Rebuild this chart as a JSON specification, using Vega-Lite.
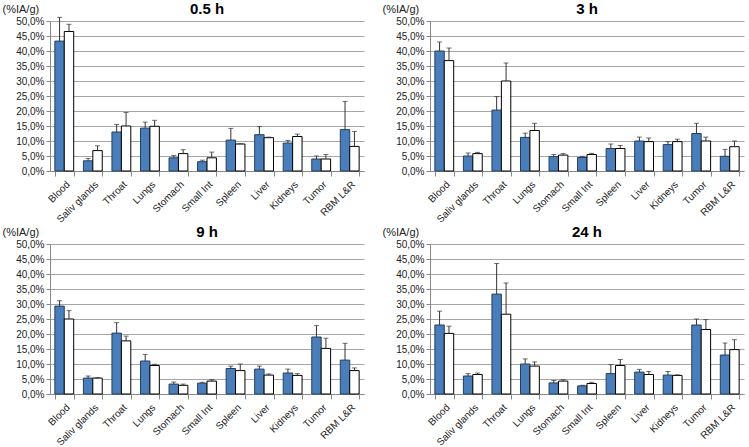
{
 "$schema": "https://vega.github.io/schema/vega-lite/v6.json",
 "background": "white",
 "padding": {"left": 2, "right": 2, "top": 2, "bottom": 2},
 "data": {"values": [
  {"t":"0.5 h","o":"Blood","s":"A","v":43.3,"hi":51.2},
  {"t":"0.5 h","o":"Blood","s":"B","v":46.5,"hi":48.9},
  {"t":"0.5 h","o":"Saliv glands","s":"A","v":3.4,"hi":4.2},
  {"t":"0.5 h","o":"Saliv glands","s":"B","v":6.8,"hi":8.4},
  {"t":"0.5 h","o":"Throat","s":"A","v":13.0,"hi":15.5},
  {"t":"0.5 h","o":"Throat","s":"B","v":15.0,"hi":19.5},
  {"t":"0.5 h","o":"Lungs","s":"A","v":14.3,"hi":16.3},
  {"t":"0.5 h","o":"Lungs","s":"B","v":14.9,"hi":16.9},
  {"t":"0.5 h","o":"Stomach","s":"A","v":4.4,"hi":5.2},
  {"t":"0.5 h","o":"Stomach","s":"B","v":5.8,"hi":7.1},
  {"t":"0.5 h","o":"Small Int","s":"A","v":3.1,"hi":3.6},
  {"t":"0.5 h","o":"Small Int","s":"B","v":4.4,"hi":6.3},
  {"t":"0.5 h","o":"Spleen","s":"A","v":10.3,"hi":14.2},
  {"t":"0.5 h","o":"Spleen","s":"B","v":9.0,"hi":9.1},
  {"t":"0.5 h","o":"Liver","s":"A","v":12.1,"hi":14.8},
  {"t":"0.5 h","o":"Liver","s":"B","v":11.1,"hi":11.3},
  {"t":"0.5 h","o":"Kidneys","s":"A","v":9.3,"hi":10.2},
  {"t":"0.5 h","o":"Kidneys","s":"B","v":11.5,"hi":12.3},
  {"t":"0.5 h","o":"Tumor","s":"A","v":4.0,"hi":5.0},
  {"t":"0.5 h","o":"Tumor","s":"B","v":4.0,"hi":5.5},
  {"t":"0.5 h","o":"RBM L&R","s":"A","v":13.8,"hi":23.2},
  {"t":"0.5 h","o":"RBM L&R","s":"B","v":8.2,"hi":13.2},
  {"t":"3 h","o":"Blood","s":"A","v":40.0,"hi":43.0},
  {"t":"3 h","o":"Blood","s":"B","v":36.8,"hi":41.0},
  {"t":"3 h","o":"Saliv glands","s":"A","v":5.0,"hi":6.0},
  {"t":"3 h","o":"Saliv glands","s":"B","v":5.8,"hi":6.2},
  {"t":"3 h","o":"Throat","s":"A","v":20.3,"hi":24.8},
  {"t":"3 h","o":"Throat","s":"B","v":30.0,"hi":36.0},
  {"t":"3 h","o":"Lungs","s":"A","v":11.2,"hi":12.6},
  {"t":"3 h","o":"Lungs","s":"B","v":13.5,"hi":15.9},
  {"t":"3 h","o":"Stomach","s":"A","v":4.8,"hi":5.5},
  {"t":"3 h","o":"Stomach","s":"B","v":5.3,"hi":5.8},
  {"t":"3 h","o":"Small Int","s":"A","v":4.5,"hi":4.9},
  {"t":"3 h","o":"Small Int","s":"B","v":5.5,"hi":5.9},
  {"t":"3 h","o":"Spleen","s":"A","v":7.5,"hi":9.0},
  {"t":"3 h","o":"Spleen","s":"B","v":7.5,"hi":8.5},
  {"t":"3 h","o":"Liver","s":"A","v":10.0,"hi":11.3},
  {"t":"3 h","o":"Liver","s":"B","v":9.8,"hi":11.0},
  {"t":"3 h","o":"Kidneys","s":"A","v":8.8,"hi":9.8},
  {"t":"3 h","o":"Kidneys","s":"B","v":9.8,"hi":10.6},
  {"t":"3 h","o":"Tumor","s":"A","v":12.5,"hi":15.9},
  {"t":"3 h","o":"Tumor","s":"B","v":10.0,"hi":11.3},
  {"t":"3 h","o":"RBM L&R","s":"A","v":4.9,"hi":7.2},
  {"t":"3 h","o":"RBM L&R","s":"B","v":8.1,"hi":10.0},
  {"t":"9 h","o":"Blood","s":"A","v":29.3,"hi":31.1},
  {"t":"9 h","o":"Blood","s":"B","v":25.0,"hi":27.8},
  {"t":"9 h","o":"Saliv glands","s":"A","v":5.3,"hi":6.0},
  {"t":"9 h","o":"Saliv glands","s":"B","v":5.3,"hi":5.5},
  {"t":"9 h","o":"Throat","s":"A","v":20.3,"hi":23.8},
  {"t":"9 h","o":"Throat","s":"B","v":17.7,"hi":19.3},
  {"t":"9 h","o":"Lungs","s":"A","v":11.0,"hi":13.2},
  {"t":"9 h","o":"Lungs","s":"B","v":9.5,"hi":9.9},
  {"t":"9 h","o":"Stomach","s":"A","v":3.3,"hi":4.0},
  {"t":"9 h","o":"Stomach","s":"B","v":2.9,"hi":3.3},
  {"t":"9 h","o":"Small Int","s":"A","v":3.6,"hi":3.9},
  {"t":"9 h","o":"Small Int","s":"B","v":4.3,"hi":4.8},
  {"t":"9 h","o":"Spleen","s":"A","v":8.5,"hi":9.3},
  {"t":"9 h","o":"Spleen","s":"B","v":7.8,"hi":10.0},
  {"t":"9 h","o":"Liver","s":"A","v":8.3,"hi":9.3},
  {"t":"9 h","o":"Liver","s":"B","v":6.3,"hi":6.7},
  {"t":"9 h","o":"Kidneys","s":"A","v":7.0,"hi":8.3},
  {"t":"9 h","o":"Kidneys","s":"B","v":6.2,"hi":6.8},
  {"t":"9 h","o":"Tumor","s":"A","v":19.0,"hi":22.8},
  {"t":"9 h","o":"Tumor","s":"B","v":15.2,"hi":18.6},
  {"t":"9 h","o":"RBM L&R","s":"A","v":11.3,"hi":16.9},
  {"t":"9 h","o":"RBM L&R","s":"B","v":7.8,"hi":8.7},
  {"t":"24 h","o":"Blood","s":"A","v":23.0,"hi":27.6},
  {"t":"24 h","o":"Blood","s":"B","v":20.2,"hi":22.6},
  {"t":"24 h","o":"Saliv glands","s":"A","v":6.0,"hi":6.8},
  {"t":"24 h","o":"Saliv glands","s":"B","v":6.5,"hi":7.0},
  {"t":"24 h","o":"Throat","s":"A","v":33.3,"hi":43.5},
  {"t":"24 h","o":"Throat","s":"B","v":26.6,"hi":37.0},
  {"t":"24 h","o":"Lungs","s":"A","v":10.0,"hi":11.7},
  {"t":"24 h","o":"Lungs","s":"B","v":9.3,"hi":10.7},
  {"t":"24 h","o":"Stomach","s":"A","v":3.7,"hi":4.5},
  {"t":"24 h","o":"Stomach","s":"B","v":4.3,"hi":4.8},
  {"t":"24 h","o":"Small Int","s":"A","v":2.7,"hi":2.9},
  {"t":"24 h","o":"Small Int","s":"B","v":3.5,"hi":3.9},
  {"t":"24 h","o":"Spleen","s":"A","v":6.8,"hi":9.8},
  {"t":"24 h","o":"Spleen","s":"B","v":9.5,"hi":11.5},
  {"t":"24 h","o":"Liver","s":"A","v":7.3,"hi":8.2},
  {"t":"24 h","o":"Liver","s":"B","v":6.5,"hi":7.5},
  {"t":"24 h","o":"Kidneys","s":"A","v":6.3,"hi":7.5},
  {"t":"24 h","o":"Kidneys","s":"B","v":6.2,"hi":6.4},
  {"t":"24 h","o":"Tumor","s":"A","v":23.0,"hi":25.0},
  {"t":"24 h","o":"Tumor","s":"B","v":21.5,"hi":24.8},
  {"t":"24 h","o":"RBM L&R","s":"A","v":13.0,"hi":17.0},
  {"t":"24 h","o":"RBM L&R","s":"B","v":14.8,"hi":18.1}
 ]},
 "facet": {"field": "t", "type": "nominal", "sort": ["0.5 h", "3 h", "9 h", "24 h"], "title": null,
   "header": {"labelFontSize": 15, "labelFontWeight": "bold", "labelFont": "Liberation Sans", "labelColor": "#000", "labelPadding": -14}},
 "columns": 2,
 "spacing": {"row": 0, "column": 18},
 "resolve": {"axis": {"x": "independent", "y": "independent"}},
 "config": {
  "view": {"stroke": null},
  "axisY": {"title": "(%IA/g)", "titleAngle": 0, "titleAlign": "left", "titleBaseline": "alphabetic", "titleX": -48, "titleY": -9, "titleFont": "Liberation Sans", "titleFontSize": 11, "titleFontWeight": "normal", "titleColor": "#222",
    "labelFont": "Liberation Sans", "labelFontSize": 10, "labelColor": "#222", "labelOverlap": false,
    "gridColor": "#A6A6A6", "tickColor": "#888", "domainColor": "#888", "tickSize": 4}
 },
 "spec": {
  "width": 314,
  "height": 150,
  "encoding": {
   "x": {"field": "o", "type": "nominal",
     "sort": ["Blood", "Saliv glands", "Throat", "Lungs", "Stomach", "Small Int", "Spleen", "Liver", "Kidneys", "Tumor", "RBM L&R"],
     "title": null,
     "scale": {"paddingInner": 0.34, "paddingOuter": 0.17},
     "axis": {"labelAngle": -45, "labelFont": "Liberation Sans", "labelFontSize": 10, "labelColor": "#222", "tickBand": "extent", "tickSize": 5, "tickColor": "#888", "domainColor": "#888", "labelPadding": 3, "grid": false}},
   "xOffset": {"field": "s", "type": "nominal", "scale": {"paddingInner": 0}},
   "y": {"field": "v", "type": "quantitative", "scale": {"domain": [0, 50]},
     "axis": {"title": "(%IA/g)", "values": [0, 5, 10, 15, 20, 25, 30, 35, 40, 45, 50],
       "labelExpr": "replace(format(datum.value, '.1f'), '.', ',') + '%'"}}
  },
  "layer": [
   {"mark": {"type": "bar", "strokeWidth": 1},
    "encoding": {
     "fill": {"field": "s", "type": "nominal", "scale": {"domain": ["A", "B"], "range": ["#4A7EBB", "#FFFFFF"]}, "legend": null},
     "stroke": {"field": "s", "type": "nominal", "scale": {"domain": ["A", "B"], "range": ["#243F60", "#000000"]}, "legend": null}
    }},
   {"mark": {"type": "rule", "color": "#333", "strokeWidth": 1},
    "encoding": {"y2": {"field": "hi"}}},
   {"mark": {"type": "tick", "color": "#333", "size": 5, "thickness": 1},
    "encoding": {"y": {"field": "hi", "type": "quantitative", "scale": {"domain": [0, 50]},
     "axis": {"title": "(%IA/g)", "values": [0, 5, 10, 15, 20, 25, 30, 35, 40, 45, 50],
       "labelExpr": "replace(format(datum.value, '.1f'), '.', ',') + '%'"}}}}
  ]
 }
}
